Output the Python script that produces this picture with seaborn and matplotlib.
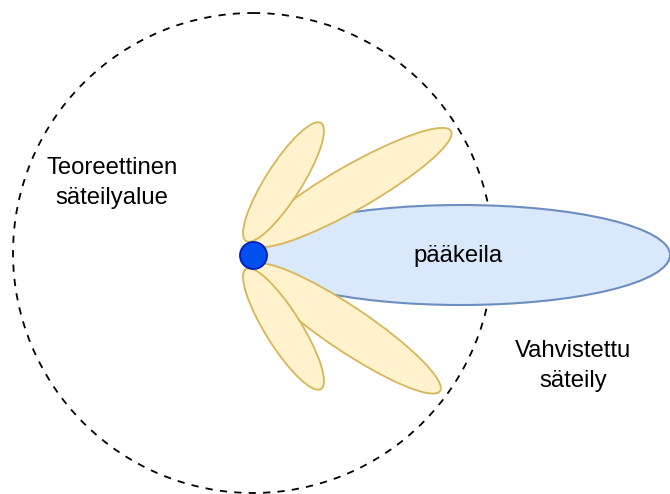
import numpy as np
import matplotlib
matplotlib.use("Agg")
import matplotlib.pyplot as plt
from matplotlib.patches import Ellipse, Circle
import seaborn as sns
import pandas as pd

# ---- diagram data (image pixel coordinates) ----
region_label = ["Teoreettinen", "säteilyalue"]
confirmed_label = ["Vahvistettu", "säteily"]
main_lobe_label = "pääkeila"

source_xy = [253, 255]
circle_center = [253, 253]
circle_radius = 240
main_lobe_center = [461, 255]
main_lobe_size = [418, 100]

# side lobes: outer (right) ones first, inner (left) ones drawn on top
side_base_x = [254, 254, 246, 246]
side_base_y = [244, 266, 241, 269]
side_tip_x = [451, 440, 321, 321]
side_tip_y = [131, 391, 123, 389]
side_width = [44, 44, 36, 36]

sns.set_theme(style="white")
plt.rcParams['font.family'] = ['Liberation Sans', 'DejaVu Sans']

fig = plt.figure(figsize=(6.7, 4.94), dpi=100)
ax = fig.add_axes([0, 0, 1, 1])

# theoretical radiation region (dashed circle)
ax.add_patch(Circle(circle_center, circle_radius, fill=False, ec='black',
                    lw=1.3, ls=(0, (4, 4)), zorder=1))

# main lobe
ax.add_patch(Ellipse(main_lobe_center, main_lobe_size[0], main_lobe_size[1],
                     fc='#dae8fc', ec='#6c8ebf', lw=1.5, zorder=2))

# side lobes (drawn above the main lobe)
for i, (bx, by, tx, ty, w) in enumerate(zip(side_base_x, side_base_y, side_tip_x, side_tip_y, side_width)):
    cx, cy = (bx + tx) / 2, (by + ty) / 2
    length = np.hypot(tx - bx, ty - by)
    ang = np.degrees(np.arctan2(ty - by, tx - bx))
    ax.add_patch(Ellipse((cx, cy), length, w, angle=ang, fc='#fff2cc',
                         ec='#d6b656', lw=1.3, zorder=3 + i * 0.1))

# source point
src = pd.DataFrame({"x": [source_xy[0]], "y": [source_xy[1]]})
sns.scatterplot(data=src, x="x", y="y", ax=ax, s=380, color='#0050ef',
                edgecolor='#001dbc', linewidth=1.3, zorder=5, legend=False)
ax.set_xlim(0, 670)
ax.set_ylim(494, 0)
ax.set_aspect('equal')
ax.axis('off')

fs = 17.2
tc = '#000000'
ax.text(112, 168, region_label[0], ha='center', va='center', fontsize=fs, color=tc, zorder=6)
ax.text(112, 198, region_label[1], ha='center', va='center', fontsize=fs, color=tc, zorder=6)
ax.text(458, 256, main_lobe_label, ha='center', va='center', fontsize=fs, color=tc, zorder=6)
ax.text(573, 351, confirmed_label[0], ha='center', va='center', fontsize=fs, color=tc, zorder=6)
ax.text(573, 381, confirmed_label[1], ha='center', va='center', fontsize=fs, color=tc, zorder=6)

fig.savefig("out.png", dpi=100, facecolor='white')
